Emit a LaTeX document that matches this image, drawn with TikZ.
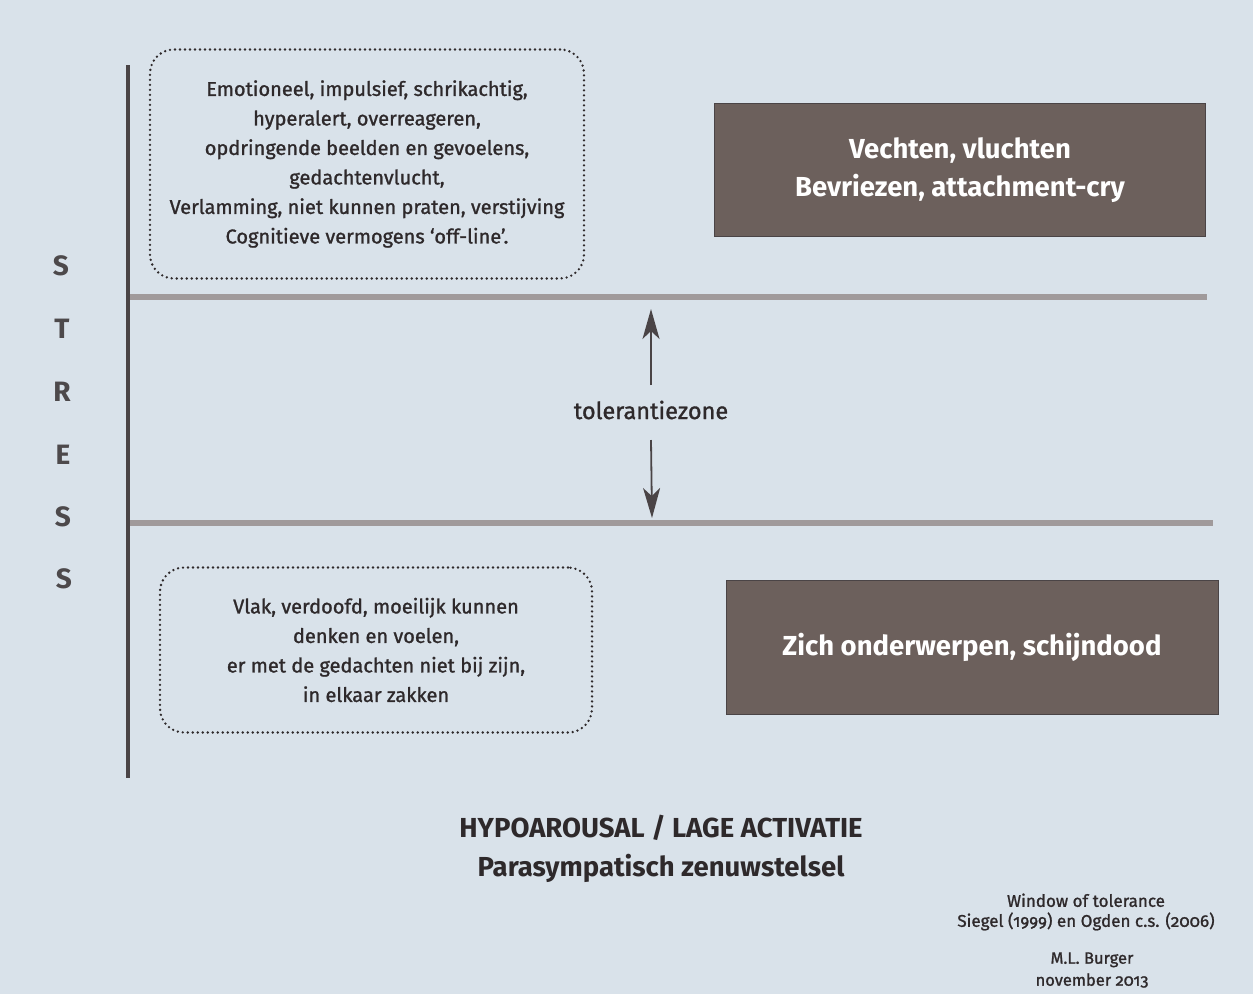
\documentclass[tikz,border=0pt]{standalone}
\usepackage{fontspec}
\setmainfont{Fira Sans}
\newfontfamily\med[FakeBold=1.2,Ligatures=TeX]{Fira Sans}
\newfontfamily\medold[FakeBold=1.2,Numbers=OldStyle,Ligatures=TeX]{Fira Sans}
\usetikzlibrary{arrows.meta}
\definecolor{bgc}{HTML}{D9E2EA}
\definecolor{ink}{HTML}{2E292B}
\definecolor{darkbox}{HTML}{6C605C}
\definecolor{axisc}{HTML}{4A4446}
\definecolor{bandc}{HTML}{A09A9B}
\tikzset{
  dotbox/.style={draw=ink, line width=2.6pt, dash pattern=on 0pt off 5pt, line cap=round,
    rounded corners=24pt, align=center, text=ink, font=\fontsize{20}{29.5}\selectfont\med, inner sep=0pt},
  darkrect/.style={draw=axisc, line width=1pt, fill=darkbox, text=white, align=center,
    font=\fontsize{27.5}{38}\selectfont\bfseries, inner sep=0pt},
  stressletter/.style={text=ink!85, font=\fontsize{28}{28}\selectfont\bfseries},
  band/.style={draw=bandc, line width=6pt},
  zonearrow/.style={draw=axisc, line width=1.8pt, -{Stealth[length=30pt, width=17pt, inset=8pt]}},
  plain/.style={text=ink, align=center},
}
\begin{document}
\begin{tikzpicture}[x=1pt,y=-1pt]
\fill[bgc] (0,0) rectangle (1253,994);
\useasboundingbox (0,0) rectangle (1253,994);

% vertical axis
\coordinate (axtop) at (128,65);
\coordinate (axbot) at (128,778);
% bands
\coordinate (b1l) at (128,297);
\coordinate (b1r) at (1207,297);
\coordinate (b2l) at (128,523);
\coordinate (b2r) at (1213,523);
\draw[band] (b1l) -- (b1r);
\draw[band] (b2l) -- (b2r);
\draw[axisc, line width=4pt] (axtop) -- (axbot);

% STRESS letters
\node[stressletter] (s1) at (61,266) {S};
\node[stressletter] (s2) at (62,329) {T};
\node[stressletter] (s3) at (62,392) {R};
\node[stressletter] (s4) at (63,455) {E};
\node[stressletter] (s5) at (63,517) {S};
\node[stressletter] (s6) at (64,579) {S};

% top dotted box
\node[dotbox, minimum width=434pt, minimum height=229pt] (hyper) at (367,164)
{Emotioneel, impulsief, schrikachtig,\\
hyperalert, overreageren,\\
opdringende beelden en gevoelens,\\
gedachtenvlucht,\\
Verlamming, niet kunnen praten, verstijving\\
Cognitieve vermogens ‘off-line’.};

% bottom dotted box
\node[dotbox, minimum width=432pt, minimum height=165pt] (hypo) at (376,650)
{Vlak, verdoofd, moeilijk kunnen\\
denken en voelen,\\
er met de gedachten niet bij zijn,\\
in elkaar zakken};

% dark boxes
\node[darkrect, minimum width=491pt, minimum height=133pt] (fight) at (960,170)
{Vechten, vluchten\\Bevriezen, attachment-cry};
\node[darkrect, minimum width=492pt, minimum height=134pt] (submit) at (972,647)
{Zich onderwerpen, schijndood};

% tolerance zone
\node[plain, font=\fontsize{23.5}{26}\selectfont\med] (tz) at (651,410) {tolerantiezone};
\coordinate (uptip) at (651,309);
\coordinate (downtip) at (652,518);
\draw[zonearrow] ([yshift=25pt]tz.center) -- (uptip);
\draw[zonearrow] ([yshift=-30pt]tz.center) -- (downtip);

% bottom titles
\node[plain, font=\fontsize{27.5}{30}\selectfont\bfseries] (title1) at (661,828) {HYPOAROUSAL / LAGE ACTIVATIE};
\node[plain, font=\fontsize{27.5}{30}\selectfont\bfseries] (title2) at (661,868) {Parasympatisch zenuwstelsel};

% credits
\node[plain, font=\fontsize{17}{20}\selectfont\medold] (cr1) at (1086,912)
{Window of tolerance\\Siegel (1999) en Ogden c.s. (2006)};
\node[plain, font=\fontsize{16.5}{22}\selectfont\medold] (cr2) at (1092,970)
{M.L. Burger\\november 2013};
\end{tikzpicture}
\end{document}
